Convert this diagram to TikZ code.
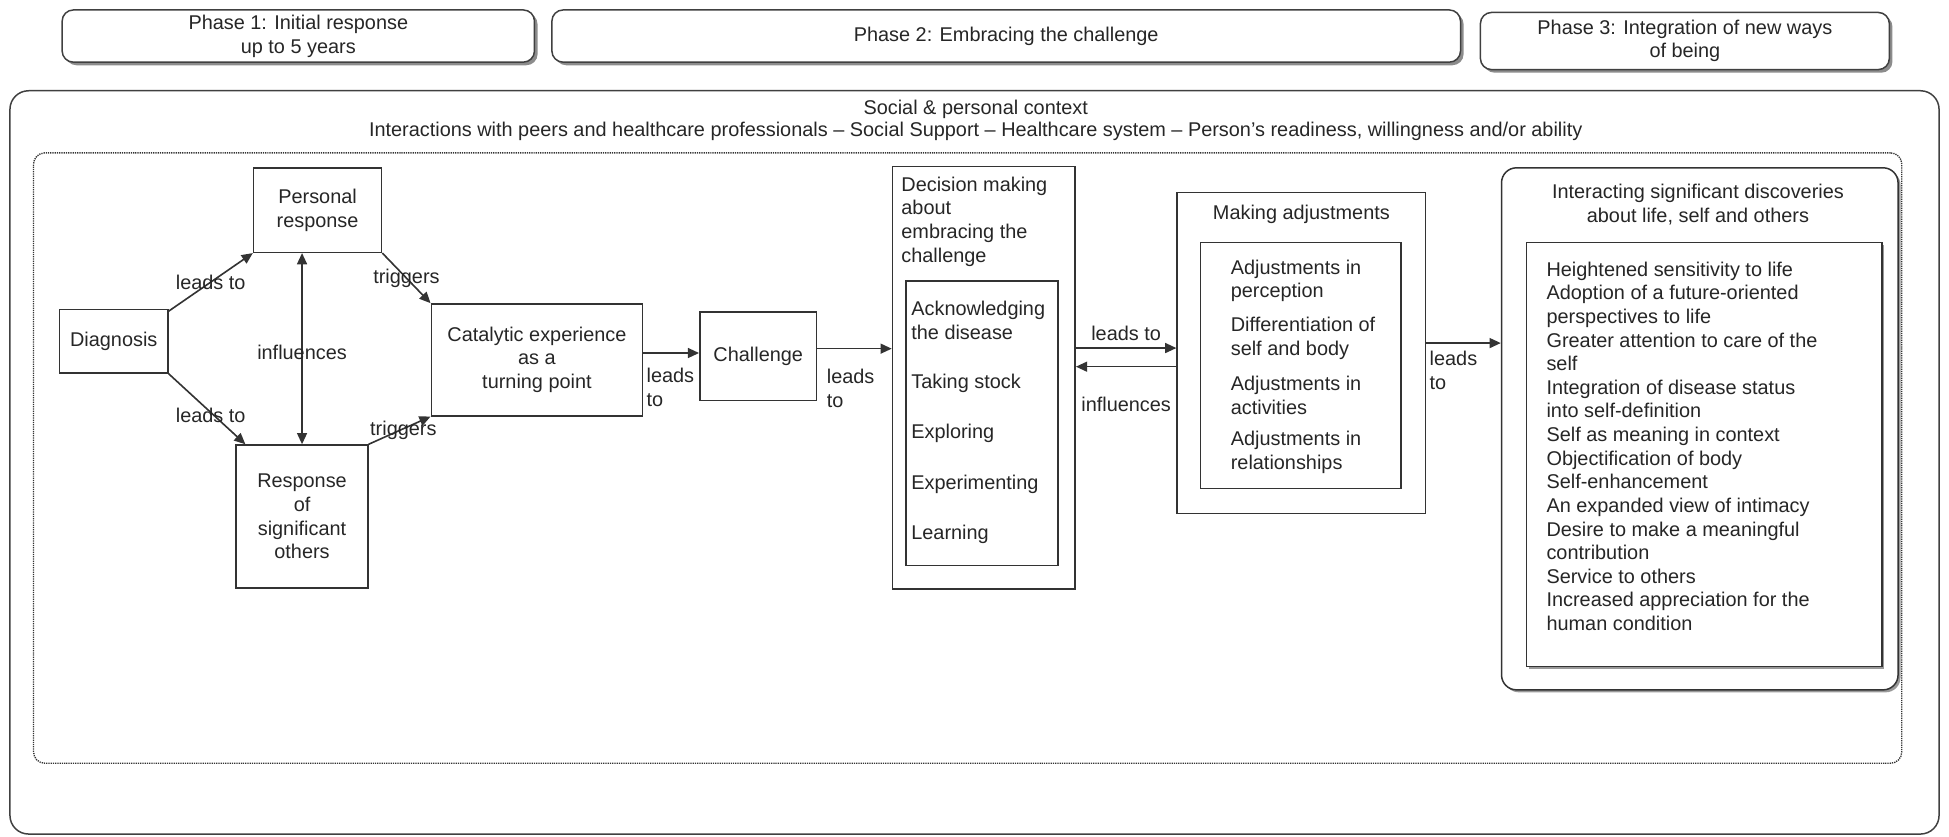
\documentclass[tikz,border=0pt]{standalone}
\usepackage{fontspec}
\setmainfont{Liberation Sans}
\usetikzlibrary{shadows,arrows.meta}
\begin{document}
\begin{tikzpicture}[x=1pt,y=-1pt,
  every node/.style={font=\fontsize{16}{19}\selectfont, inner sep=0pt, text=black!85},
  box/.style={draw=black!80, line width=1.2pt},
  phasebox/.style={draw=black!75, line width=1.2pt, rounded corners=9pt, fill=white, align=center,
     drop shadow={shadow xshift=2.5pt, shadow yshift=-2.5pt, fill=black!45, opacity=1}},
  shadowbox/.style={fill=white, drop shadow={shadow xshift=2pt, shadow yshift=-2pt, fill=black!40, opacity=1}},
  conn/.style={draw=black!80, line width=1.3pt, -{Triangle[length=9pt,width=8pt]}},
  dconn/.style={draw=black!80, line width=1.3pt, {Triangle[length=9pt,width=8pt]}-{Triangle[length=9pt,width=8pt]}},
  lbl/.style={align=left, anchor=west},
]
\useasboundingbox (0,0) rectangle (1568,672.7);

% phases
\node[phasebox, minimum width=380pt, minimum height=42pt] (p1) at (240,29) {Phase 1: Initial response\\up to 5 years};
\node[phasebox, minimum width=731pt, minimum height=42pt] (p2) at (809.5,29) {Phase 2: Embracing the challenge};
\node[phasebox, minimum width=329pt, minimum height=46pt] (p3) at (1355.5,33) {Phase 3: Integration of new ways\\of being};

% context
\node[draw=black!75, line width=1.2pt, rounded corners=15pt, minimum width=1552pt, minimum height=598pt] (ctx) at (784,372) {};
\node (ctxa) at (785,88) {Social \& personal context};
\node (ctxb) at (785,105.5) {Interactions with peers and healthcare professionals – Social Support – Healthcare system – Person's readiness, willingness and/or ability};
\node[draw=black!80, line width=1.1pt, dash pattern=on 1pt off 0.8pt, rounded corners=9pt, minimum width=1503pt, minimum height=491pt] (dot) at (778.5,368.5) {};

% phase 1 nodes
\node[box, minimum width=87pt, minimum height=51pt] (diag) at (91.5,274.5) {Diagnosis};
\node[box, minimum width=103pt, minimum height=68pt, align=center] (pr) at (255.5,169) {Personal\\response};
\node[box, minimum width=106pt, minimum height=115pt, align=center] (rso) at (243,415.5) {Response\\of\\significant\\others};
\node[box, minimum width=170pt, minimum height=90pt, align=center] (cat) at (432,289.5) {Catalytic experience\\as a\\turning point};
\node[box, minimum width=94pt, minimum height=71pt] (chal) at (610,286.5) {Challenge};

% decision making
\node[box, minimum width=147pt, minimum height=340pt] (dec) at (791.5,304) {};
\node[align=left, anchor=north west] (dect) at (725,142) {Decision making\\about\\embracing the\\challenge};
\node[box, fill=white, minimum width=122pt, minimum height=229pt] (deci) at (790,340.5) {};
\node[lbl] (d1) at (733,258) {Acknowledging\\the disease};
\node[lbl] (d2) at (733,308.5) {Taking stock};
\node[lbl] (d3) at (733,348.5) {Exploring};
\node[lbl] (d4) at (733,389.5) {Experimenting};
\node[lbl] (d5) at (733,429.5) {Learning};

% making adjustments
\node[box, minimum width=200pt, minimum height=258pt] (madj) at (1047,284) {};
\node (madjt) at (1047,172.5) {Making adjustments};
\node[box, minimum width=161pt, minimum height=198pt] (madji) at (1046.5,294) {};
\node[lbl] (m1) at (990,226) {Adjustments in\\perception};
\node[lbl] (m2) at (990,272) {Differentiation of\\self and body};
\node[lbl] (m3) at (990,318) {Adjustments in\\activities};
\node[lbl] (m4) at (990,364) {Adjustments in\\relationships};

% interacting discoveries
\node[box, shadowbox, rounded corners=12pt, minimum width=319pt, minimum height=420pt] (int) at (1367.5,345) {};
\node[align=center] (intt) at (1366,164.5) {Interacting significant discoveries\\about life, self and others};
\node[box, shadowbox, minimum width=286pt, minimum height=341pt] (inti) at (1371,365.5) {};
\node[lbl] (ilist) at (1244,359) {Heightened sensitivity to life\\Adoption of a future-oriented\\perspectives to life\\Greater attention to care of the\\self\\Integration of disease status\\into self-definition\\Self as meaning in context\\Objectification of body\\Self-enhancement\\An expanded view of intimacy\\Desire to make a meaningful\\contribution\\Service to others\\Increased appreciation for the\\human condition};

% connectors
\draw[conn] ([yshift=-2pt]diag.north east) -- (pr.south west) node[midway] (l1) {leads to};
\draw[conn] (diag.south east) -- ([xshift=8pt]rso.north west) node[midway, xshift=3pt, yshift=-5pt] (l2) {leads to};
\draw[dconn] (rso.north |- pr.south) -- (rso.north) node[midway, yshift=-3pt] (l3) {influences};
\draw[conn] (pr.south east) -- (cat.north west) node[midway] (l4) {triggers};
\draw[conn] (rso.north east) -- (cat.south west) node[midway, xshift=3pt] (l5) {triggers};
\draw[conn] ([yshift=5.5pt]cat.east) -- ([yshift=5.5pt]cat.east -| chal.west);
\node[lbl] (l6) at (520,311.5) {leads\\to};
\draw[conn] ([yshift=6pt]chal.east) -- ([yshift=6pt]chal.east -| dec.west);
\node[lbl] (l7) at (665,312.5) {leads\\to};
\draw[conn] (dec.east |- 0,280) -- (madj.west |- 0,280) node[midway, above=5pt] (l8) {leads to};
\draw[conn] (madj.west |- 0,295) -- (dec.east |- 0,295) node[midway, below=24pt] (l9) {influences};
\draw[conn] (madj.east |- 0,276) -- (int.west |- 0,276);
\node[lbl] (l10) at (1150,298) {leads\\to};
\end{tikzpicture}
\end{document}
